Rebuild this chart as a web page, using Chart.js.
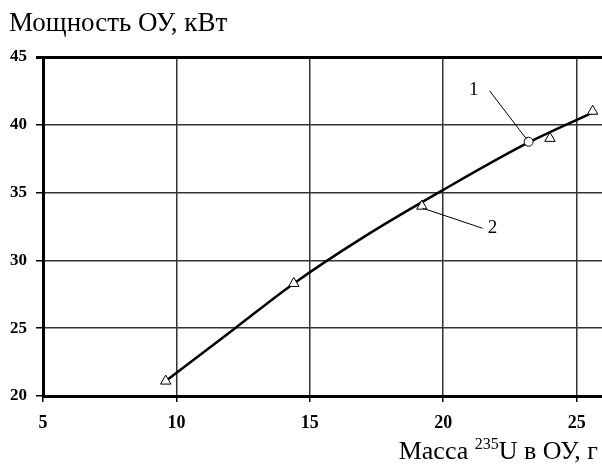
<!DOCTYPE html>
<html>
<head>
<meta charset="utf-8">
<script src="https://cdn.jsdelivr.net/npm/chart.js@4"></script>
<style>
  html, body { margin: 0; padding: 0; background: #fff; overflow: hidden; }
  #wrap { width: 602px; height: 470px; position: relative; }
</style>
</head>
<body>
<div id="wrap"><canvas id="chart" width="602" height="470"></canvas></div>
<script>
// measured points (triangles) and the check point (circle)
const massTriangles = [9.6, 14.4, 19.2, 24.0, 25.6];
const powerTriangles = [21.1, 28.3, 34.0, 39.0, 41.0];
const massCircle = [23.2];
const powerCircle = [38.75];
// fitted curve
const curveMass = [9.6, 12.2, 14.4, 17.0, 20.0, 23.2, 25.6];
const curvePower = [21.1, 25.0, 28.3, 31.7, 35.2, 38.7, 40.9];
const xTicks = [5, 10, 15, 20, 25];
const yTicks = [20, 25, 30, 35, 40, 45];

const toPoints = (xs, ys) => xs.map((x, i) => ({ x: x, y: ys[i] }));

const serif = "'Liberation Serif', 'Times New Roman', serif";

// plot runs right up to the edge of the picture
const fullWidth = {
  id: "fullWidth",
  afterLayout(chart) {
    const area = chart.chartArea;
    const xs = chart.scales.x;
    area.right = chart.width;
    area.width = area.right - area.left;
    xs.right = chart.width;
    xs.width = xs.right - xs.left;
    xs.configure();
  }
};

// titles and the numbered leader lines
const extras = {
  id: "extras",
  afterDatasetsDraw(chart) {
    const { ctx, scales } = chart;
    const px = (v) => scales.x.getPixelForValue(v);
    const py = (v) => scales.y.getPixelForValue(v);
    ctx.save();
    ctx.strokeStyle = "#000";
    ctx.lineWidth = 1;
    ctx.beginPath();
    ctx.moveTo(px(21.74), py(42.5));
    ctx.lineTo(px(23.12), py(38.95));
    ctx.moveTo(px(19.23), py(33.85));
    ctx.lineTo(px(21.47), py(32.37));
    ctx.stroke();
    ctx.fillStyle = "#000";
    ctx.font = "19px " + serif;
    ctx.textAlign = "center";
    ctx.textBaseline = "middle";
    ctx.fillText("1", px(21.14), py(42.58));
    ctx.fillText("2", px(21.85), py(32.38));
    ctx.restore();
  },
  afterDraw(chart) {
    const { ctx } = chart;
    ctx.save();
    ctx.fillStyle = "#000";
    ctx.textBaseline = "alphabetic";
    ctx.textAlign = "left";
    ctx.font = "27px " + serif;
    ctx.fillText("Мощность ОУ, кВт", 9, 31);

    const a = "Масса ", sup = "235", b = "U в ОУ, г";
    const supFont = "16px " + serif;
    const big = "26px " + serif;
    ctx.font = big;
    const wa = ctx.measureText(a).width, wb = ctx.measureText(b).width;
    ctx.font = supFont;
    const ws = ctx.measureText(sup).width;
    let x = 598 - (wa + ws + wb);
    const base = 459;
    ctx.font = big;
    ctx.fillText(a, x, base);
    x += wa;
    ctx.font = supFont;
    ctx.fillText(sup, x, base - 10);
    x += ws;
    ctx.font = big;
    ctx.fillText(b, x, base);
    ctx.restore();
  }
};

new Chart(document.getElementById("chart"), {
  type: "scatter",
  data: {
    datasets: [
      {
        label: "curve",
        data: toPoints(curveMass, curvePower),
        showLine: true,
        borderColor: "#000",
        borderWidth: 2.5,
        pointRadius: 0,
        cubicInterpolationMode: "monotone",
        order: 3
      },
      {
        label: "2",
        data: toPoints(massTriangles, powerTriangles),
        pointStyle: "triangle",
        pointRadius: 6,
        borderColor: "#000",
        borderWidth: 1,
        backgroundColor: "#fff",
        order: 1
      },
      {
        label: "1",
        data: toPoints(massCircle, powerCircle),
        pointStyle: "circle",
        pointRadius: 4.5,
        borderColor: "#000",
        borderWidth: 1,
        backgroundColor: "#fff",
        order: 2
      }
    ]
  },
  options: {
    responsive: false,
    animation: false,
    layout: { padding: { top: 57, right: 0, bottom: 0, left: 0 } },
    plugins: { legend: { display: false }, tooltip: { enabled: false }, title: { display: false } },
    scales: {
      x: {
        type: "linear",
        min: 5,
        max: 25.95,
        afterBuildTicks: (s) => { s.ticks = xTicks.map((v) => ({ value: v })); },
        afterFit: (s) => { s.height = 74; },
        border: { color: "#000", width: 3 },
        grid: {
          color: "#333",
          lineWidth: 1.5,
          tickColor: "#000",
          tickLength: 6
        },
        ticks: {
          padding: 11,
          color: "#000",
          font: { family: serif, size: 18, weight: "bold" }
        }
      },
      y: {
        type: "linear",
        min: 20,
        max: 45,
        afterBuildTicks: (s) => { s.ticks = yTicks.map((v) => ({ value: v })); },
        afterFit: (s) => { s.width = 43; },
        border: { color: "#000", width: 3 },
        grid: {
          color: (c) => (c.tick && c.tick.value === 45 ? "#000" : "#333"),
          lineWidth: (c) => (c.tick && c.tick.value === 45 ? 3 : 1.5),
          tickColor: "#000",
          tickLength: 7
        },
        ticks: {
          padding: 9,
          color: "#000",
          font: { family: serif, size: 17, weight: "bold" }
        }
      }
    }
  },
  plugins: [fullWidth, extras]
});
</script>
</body>
</html>
